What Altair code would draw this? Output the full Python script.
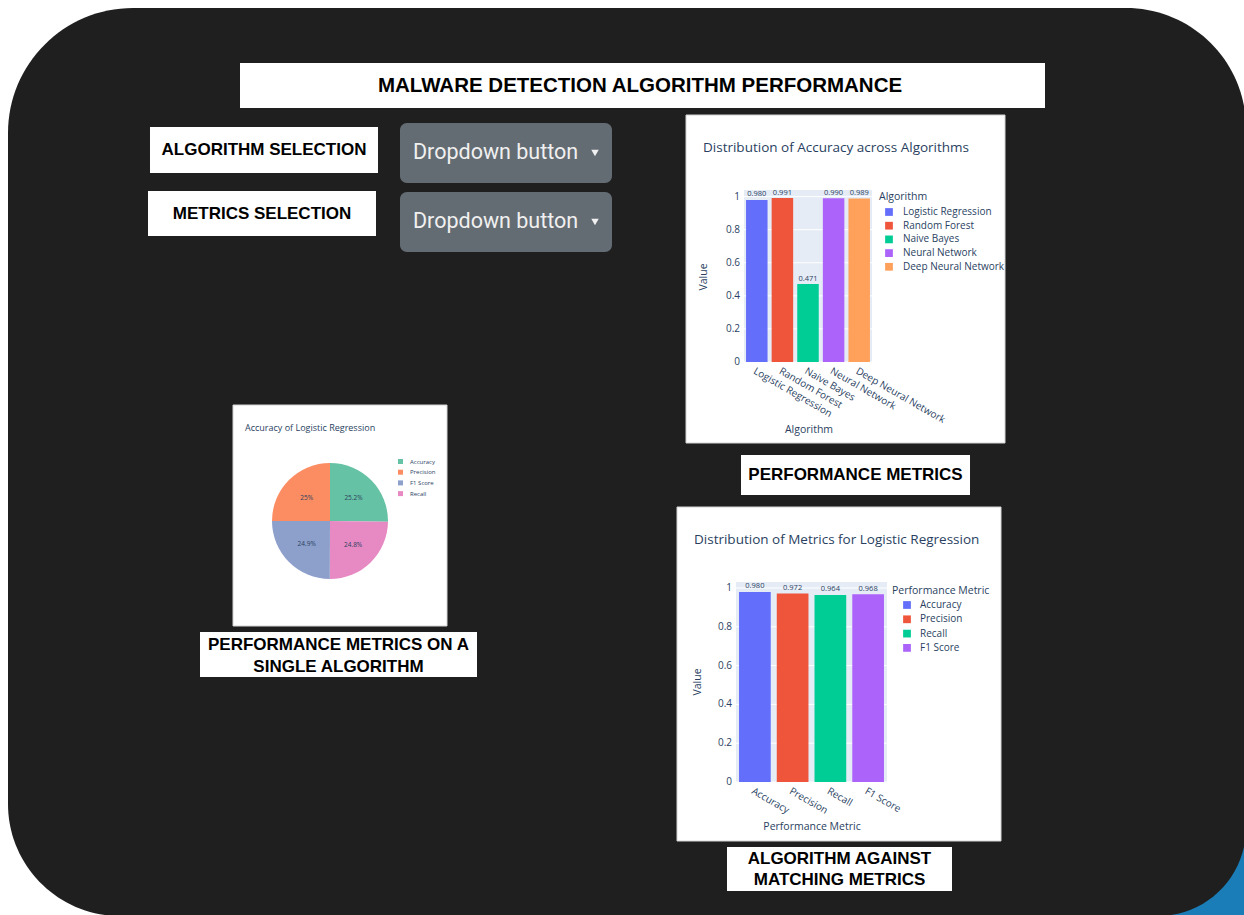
import altair as alt
import pandas as pd

W, H = 1244, 915

# ---------------- data ----------------
algorithms = ["Logistic Regression", "Random Forest", "Naive Bayes",
              "Neural Network", "Deep Neural Network"]
accuracy = [0.980, 0.991, 0.471, 0.990, 0.989]
algo_colors = ["#636EFA", "#EF553B", "#00CC96", "#AB63FA", "#FFA15A"]

metrics = ["Accuracy", "Precision", "Recall", "F1 Score"]
lr_scores = [0.980, 0.972, 0.964, 0.968]
metric_colors = ["#636EFA", "#EF553B", "#00CC96", "#AB63FA"]

pie_metrics = ["Accuracy", "Precision", "Recall", "F1 Score"]
pie_values = [0.980, 0.972, 0.964, 0.968]
pie_slot = [0, 3, 1, 2]
pie_legend_order = ["Accuracy", "Precision", "F1 Score", "Recall"]
pie_colors = ["#66C2A5", "#FC8D62", "#8DA0CB", "#E78AC3"]

y_ticks = [0, 0.2, 0.4, 0.6, 0.8, 1.0]

# ---------------- styles ----------------
FONT_BOX = "Liberation Sans"
FONT_PLOT = "Open Sans"
PLOT_TXT = "#2a3f5f"
PLOT_BG = "#E5ECF6"

one = pd.DataFrame({"k": [0]})


def rect(x, y, x2, y2, color, **kw):
    return alt.Chart(one).mark_rect(color=color, **kw).encode(
        x=alt.value(x), x2=alt.value(x2), y=alt.value(y), y2=alt.value(y2))


def text(x, y, txt, size, color="black", weight="bold", font=FONT_BOX,
         align="center", **kw):
    return alt.Chart(one).mark_text(
        text=txt, fontSize=size, fontWeight=weight, font=font, color=color,
        align=align, baseline="middle", **kw
    ).encode(x=alt.value(x), y=alt.value(y))


def ptext(x, y, txt, size, **kw):
    return text(x, y, txt, size, color=PLOT_TXT, weight="normal",
                font=FONT_PLOT, **kw)


def caret(x, y):
    return alt.Chart(one).mark_point(
        shape="triangle-down", filled=True, size=55, color="#f0f0f0",
        opacity=1).encode(x=alt.value(x), y=alt.value(y))


# ---------------- background & boxes ----------------
deco = [
    rect(1150, 800, W, H, "#1a7db8"),
    rect(8, 8, 1246, 916, "#1f1f1f", cornerRadiusTopLeft=125,
         cornerRadiusTopRight=120, cornerRadiusBottomLeft=112,
         cornerRadiusBottomRight=88),
    rect(240, 63, 1045, 108, "white"),
    text(640, 86, "MALWARE DETECTION ALGORITHM PERFORMANCE", 20.5),
    rect(150, 127, 378, 173, "white"),
    text(264, 150, "ALGORITHM SELECTION", 17),
    rect(148, 191, 376, 236, "white"),
    text(262, 213.5, "METRICS SELECTION", 17),
    rect(400, 123, 612, 183, "#646c73", cornerRadius=7),
    text(413, 153, "Dropdown button", 21.5, color="#f0f0f0", weight="normal",
         font="Roboto", align="left"),
    caret(595, 153),
    rect(400, 192, 612, 252, "#646c73", cornerRadius=7),
    text(413, 222, "Dropdown button", 21.5, color="#f0f0f0", weight="normal",
         font="Roboto", align="left"),
    caret(595, 222),
    # chart panels
    rect(686, 115, 1005, 443, "white", stroke="#d4d4d4", strokeWidth=1),
    rect(741, 455, 970, 495, "white"),
    text(855.5, 475, "PERFORMANCE METRICS", 17),
    rect(677, 507, 1001, 841, "white", stroke="#d4d4d4", strokeWidth=1),
    rect(727, 847, 952, 891, "white"),
    text(839.5, 859, ["ALGORITHM AGAINST", "MATCHING METRICS"], 17,
         lineHeight=21),
    rect(233, 405, 447, 626, "white", stroke="#d4d4d4", strokeWidth=1),
    rect(200, 632, 477, 677, "white"),
    text(338.5, 645, ["PERFORMANCE METRICS ON A", "SINGLE ALGORITHM"], 17,
         lineHeight=22),
    # plot titles, axis titles and plot backgrounds
    ptext(703, 148, "Distribution of Accuracy across Algorithms", 13.5,
          align="left"),
    ptext(694, 540, "Distribution of Metrics for Logistic Regression", 13.5,
          align="left"),
    ptext(245, 428, "Accuracy of Logistic Regression", 9, align="left"),
    ptext(809, 430, "Algorithm", 10.5),
    ptext(704, 277, "Value", 10.5, angle=270),
    ptext(812, 827, "Performance Metric", 10.5),
    ptext(698, 682, "Value", 10.5, angle=270),
    rect(744, 190, 872, 362, PLOT_BG),
    rect(736, 582, 887, 782, PLOT_BG),
]


def bar_panel(cat_field, cats, vals, colors, x_range, y_bottom, y_top, y_max,
              legend):
    df = pd.DataFrame({cat_field: cats, "Value": vals})
    tick_df = pd.DataFrame({"Value": y_ticks})
    ys = alt.Scale(domain=[0, y_max], range=[y_bottom, y_top], nice=False)
    xs = alt.Scale(domain=cats, range=x_range, paddingInner=0.16,
                   paddingOuter=0.08)
    x_enc = alt.X(f"{cat_field}:N", scale=xs, axis=None)
    y_enc = alt.Y("Value:Q", scale=ys, axis=None)
    grid = alt.Chart(tick_df).mark_rule(color="white", strokeWidth=1).encode(
        y=y_enc, x=alt.value(x_range[0]), x2=alt.value(x_range[1]))
    ytick_labels = alt.Chart(tick_df).mark_text(
        align="right", baseline="middle", fontSize=10, font=FONT_PLOT,
        color=PLOT_TXT
    ).encode(y=y_enc, x=alt.value(x_range[0] - 4),
             text=alt.Text("Value:Q", format="~g"))
    bars = alt.Chart(df).mark_bar().encode(
        x=x_enc, y=y_enc,
        color=alt.Color(f"{cat_field}:N",
                        scale=alt.Scale(domain=cats, range=colors),
                        legend=legend))
    labels = alt.Chart(df).mark_text(
        baseline="bottom", dy=-1.5, fontSize=7.5, font=FONT_PLOT, color=PLOT_TXT
    ).encode(x=x_enc, y=y_enc, text=alt.Text("Value:Q", format=".3f"))
    xtick_labels = alt.Chart(df).mark_text(
        align="left", baseline="top", angle=30, fontSize=10, font=FONT_PLOT,
        color=PLOT_TXT
    ).encode(x=x_enc, y=alt.value(y_bottom + 4),
             text=alt.Text(f"{cat_field}:N"))
    return alt.layer(grid, ytick_labels, bars, labels, xtick_labels)


legend1 = alt.Legend(
    orient="none", legendX=879, legendY=191.75, title="Algorithm",
    titleFont=FONT_PLOT, titleFontSize=10.5, titleFontWeight="normal",
    titleColor=PLOT_TXT, titlePadding=4.75, labelFont=FONT_PLOT,
    labelFontSize=10, labelColor=PLOT_TXT, symbolType="square",
    symbolSize=60, rowPadding=3.7, symbolOffset=5, labelOffset=9)

legend2 = alt.Legend(
    orient="none", legendX=892, legendY=585.75, title="Performance Metric",
    titleFont=FONT_PLOT, titleFontSize=10.5, titleFontWeight="normal",
    titleColor=PLOT_TXT, titlePadding=3.75, labelFont=FONT_PLOT,
    labelFontSize=10, labelColor=PLOT_TXT, symbolType="square",
    symbolSize=60, rowPadding=4.3, symbolOffset=10, labelOffset=8)

chart1 = bar_panel("Algorithm", algorithms, accuracy, algo_colors,
                   [744, 872], 362, 190, 1.04, legend1)

chart2 = bar_panel("Performance Metric", metrics, lr_scores, metric_colors,
                   [736, 887], 782, 582, 1.031, legend2)

# ---------------- pie ----------------
df_pie = pd.DataFrame({"Metric": pie_metrics, "Score": pie_values,
                       "Slot": pie_slot})
legend_pie = alt.Legend(
    orient="none", legendX=397, legendY=458, title=None, labelFont=FONT_PLOT,
    labelFontSize=6, labelColor=PLOT_TXT, symbolType="square", symbolSize=25,
    rowPadding=3.7, labelOffset=6)

pie_arc = alt.Chart(df_pie).mark_arc(outerRadius=58).encode(
    theta=alt.Theta("Score:Q", stack=True),
    order=alt.Order("Slot:Q"),
    color=alt.Color("Metric:N",
                    scale=alt.Scale(domain=pie_legend_order, range=pie_colors),
                    legend=legend_pie),
    x=alt.value(330), y=alt.value(521))

pie_txt = alt.Chart(df_pie).transform_joinaggregate(
    Total="sum(Score)"
).transform_calculate(
    Share="datum.Score / datum.Total"
).mark_text(radius=33, fontSize=6.5, font=FONT_PLOT, color=PLOT_TXT).encode(
    theta=alt.Theta("Score:Q", stack=True),
    order=alt.Order("Slot:Q"),
    text=alt.Text("Share:Q", format=".3~p"),
    x=alt.value(330), y=alt.value(521))

pie = alt.layer(pie_arc, pie_txt)

chart = alt.layer(*deco, chart1, chart2, pie).resolve_scale(
    x="independent", y="independent", color="independent", theta="independent"
).resolve_legend(
    color="independent"
).properties(
    width=W, height=H, padding=0, background="white",
    autosize=alt.AutoSizeParams(type="none")
).configure_view(strokeWidth=0)

chart.save("out.html", embed_options={"renderer": "svg", "actions": False})
